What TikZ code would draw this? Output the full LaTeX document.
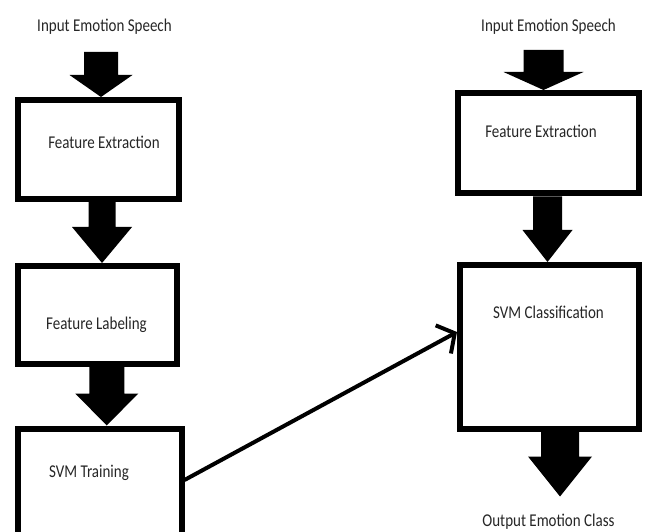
\documentclass[tikz,border=0pt]{standalone}
\usepackage{fontspec}
\setmainfont{Carlito}
\usetikzlibrary{calc,arrows.meta}
\def\blockarrow(#1)(#2)[#3:#4:#5:#6]{\fill ($(#2 |- #1)+(#3-#4,0)$) -- ($(#2 |- #1)+(#3+#4,0)$) -- ($(#2)+(#3+#4,-#6)$) -- ($(#2)+(#3+#5,-#6)$) -- ($(#2)+(#3,0)$) -- ($(#2)+(#3-#5,-#6)$) -- ($(#2)+(#3-#4,-#6)$) -- cycle;}
\newcommand\tallt[1]{\scalebox{1}[1.2]{#1}}

\begin{document}
\begin{tikzpicture}[x=1pt, y=-1pt,
	box/.style={draw, line width=6pt, inner sep=0pt},
	txt/.style={anchor=base, inner sep=0pt, text=black!85, font=\fontsize{15}{18}\selectfont}]
			%%%%% START %%%%%
			
			\clip (0, 0) rectangle (646, 532);
			\fill[white] (0, 0) rectangle (646, 532);
			
			% training side
			\node[txt] (in1) at (104.5, 32) {\tallt{Input Emotion Speech}};
			\node[box, minimum width=161pt, minimum height=99pt] (fe1) at (98.5, 149.5) {};
			\node[box, minimum width=159pt, minimum height=98pt] (fl1) at (97.5, 315) {};
			\node[box, minimum width=163.5pt, minimum height=119.5pt] (svm1) at (99.75, 488.25) {};
			\node[txt] (l-fe1) at (104, 149) {\tallt{Feature Extraction}};
			\node[txt] (l-fl1) at (96.5, 329) {\tallt{Feature Labeling}};
			\node[txt] (l-svm1) at (89, 477) {\tallt{SVM Training}};
			\coordinate (in1b) at ($(in1.base)+(0, 20)$);
			
			\blockarrow(in1b)(fe1.north)[2.5:17:31.5:22]
			\blockarrow(fe1.south)(fl1.north)[4.5:13.5:30:36]
			\blockarrow(fl1.south)(svm1.north)[7:17.5:31.5:32]
			
			% testing side
			\node[txt] (in2) at (548.5, 32) {\tallt{Input Emotion Speech}};
			\node[box, minimum width=180.5pt, minimum height=100.5pt] (fe2) at (548.25, 143.25) {};
			\node[box, minimum width=178.5pt, minimum height=163.5pt] (svm2) at (549.25, 346.75) {};
			\node[txt] (l-fe2) at (541, 138) {\tallt{Feature Extraction}};
			\node[txt] (l-svm2) at (548.5, 318) {\tallt{SVM Classification}};
			\node[txt] (out2) at (548.5, 526.5) {\tallt{Output Emotion Class}};
			\coordinate (in2b) at ($(in2.base)+(0, 18)$);
			\coordinate (out2t) at ($(svm2.south)+(10.75, 65)$);
			
			\blockarrow(in2b)(fe2.north)[-4.75:20:40:18]
			\blockarrow(fe2.south)(svm2.north)[-1.75:14.5:25:32]
			\blockarrow(svm2.south)(out2t)[0:19:32:40]
			
			% model handed over
			\draw[line width=4pt, -{Straight Barb[length=13pt, width=32pt]}] ($(svm1.east)+(0, -8.25)$) -- ($(svm2.west)+(0, -14.75)$);
			
			%%%%% END %%%%%
\end{tikzpicture}
\end{document}
